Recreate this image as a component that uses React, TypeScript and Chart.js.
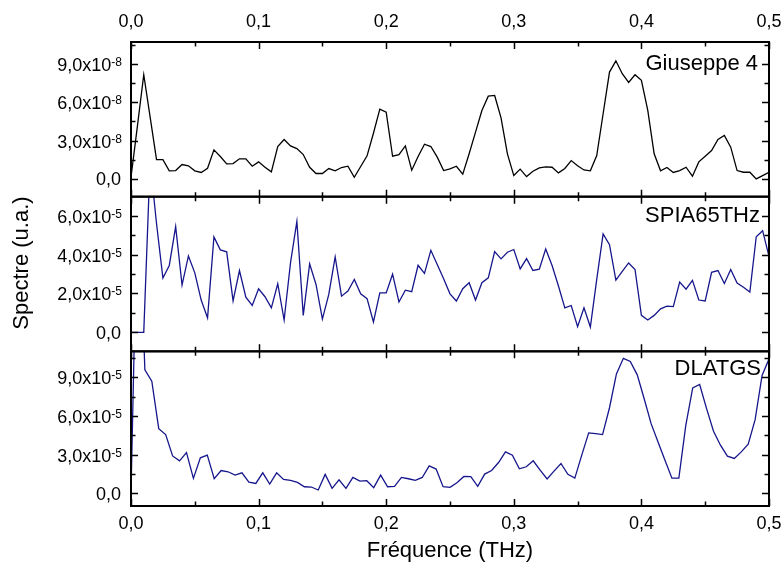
import { useEffect, useRef } from 'react';
import { Chart, registerables } from 'chart.js';

Chart.register(...registerables);

// Sampling step of each spectrum (THz)
const STEP_GIUSEPPE = 0.005;
const STEP_SPIA = 0.005;
const STEP_DLATGS = 0.5 / 92;

// Giuseppe 4 spectrum, in units of 1e-8
const giuseppe4 = [
  0.13, 4.1, 8.14, 4.83, 1.51, 1.51, 0.63, 0.65, 1.12, 1.02,
  0.63, 0.5, 0.83, 2.27, 1.75, 1.17, 1.2, 1.57, 1.57, 0.99,
  1.33, 0.91, 0.55, 2.53, 3.08, 2.58, 2.37, 1.9, 0.91, 0.42,
  0.42, 0.81, 0.63, 0.89, 0.99, 0.13, 0.97, 1.8, 3.57, 5.45,
  5.22, 1.77, 1.9, 2.58, 0.68, 1.75, 2.71, 2.53, 1.7, 0.65,
  0.78, 0.99, 0.37, 1.96, 3.65, 5.35, 6.47, 6.52, 4.77, 1.96,
  0.26, 0.76, 0.18, 0.6, 0.86, 0.94, 0.91, 0.47, 0.81, 1.43,
  1.02, 0.7, 0.63, 1.83, 5.09, 8.35, 9.23, 8.22, 7.54, 8.14,
  7.7, 5.35, 1.96, 0.63, 0.89, 0.5, 0.65, 0.91, 0.21, 1.33,
  1.77, 2.22, 3.08, 3.39, 2.48, 0.65, 0.52, 0.52, 0.0, 0.26,
  0.52,
];

// SPIA65THz spectrum, in units of 1e-5
const spia65 = [
  0, 0, 0, 8.8, 5.6, 2.79, 3.44, 5.44, 2.43, 3.93,
  3.06, 1.66, 0.74, 4.91, 4.24, 4.14, 1.62, 3.18, 1.81, 1.38,
  2.24, 1.83, 1.26, 2.5, 0.63, 3.57, 5.71, 0.87, 3.52, 2.46,
  0.68, 1.95, 3.88, 1.86, 2.12, 2.72, 1.98, 1.73, 0.53, 2.03,
  2.03, 2.99, 1.56, 2.17, 2.09, 3.45, 3.03, 4.22, 3.49, 2.75,
  1.98, 1.61, 2.24, 2.55, 1.66, 2.55, 2.8, 4.15, 3.78, 4.12,
  4.26, 3.26, 3.79, 3.18, 3.25, 4.29, 3.44, 2.38, 1.26, 1.38,
  0.29, 1.26, 0.27, 2.72, 5.06, 4.51, 2.68, 3.13, 3.57, 3.23,
  0.87, 0.63, 0.87, 1.21, 1.35, 1.32, 2.58, 2.22, 2.67, 1.66,
  1.61, 3.09, 3.18, 2.51, 3.23, 2.53, 2.32, 2.07, 4.92, 5.23,
  3.91,
];

// DLATGS spectrum, in units of 1e-5
const dlatgs = [
  0, 25, 9.56, 8.69, 5.01, 4.55, 2.9, 2.52, 3.16, 1.16,
  2.75, 2.96, 1.13, 1.77, 1.67, 1.41, 1.59, 0.87, 0.77, 1.59,
  0.72, 1.59, 1.08, 1.0, 0.85, 0.51, 0.49, 0.26, 1.47, 0.39,
  1.05, 0.39, 1.23, 0.95, 0.98, 0.44, 1.41, 0.51, 0.54, 1.23,
  1.13, 1.0, 1.23, 2.13, 1.88, 0.51, 0.46, 0.82, 1.31, 1.29,
  0.54, 1.49, 1.77, 2.39, 3.21, 2.96, 1.9, 2.06, 2.52, 1.8,
  1.11, 1.72, 2.31, 1.47, 1.18, 2.96, 4.68, 4.63, 4.55, 6.63,
  9.25, 10.46, 10.21, 9.18, 7.33, 5.4, 3.98, 2.57, 1.18, 1.18,
  5.27, 8.17, 8.43, 6.56, 4.81, 3.73, 2.88, 2.7, 3.21, 3.8,
  5.71, 9.13, 10.4,
];

const PANEL_LABELS = ['Giuseppe 4', 'SPIA65THz', 'DLATGS'];
const X_TICKS = [0, 0.1, 0.2, 0.3, 0.4, 0.5];
const X_MINOR = [0.05, 0.15, 0.25, 0.35, 0.45];
const Y1_TICKS = [0, 3, 6, 9];
const Y1_MINOR = [1.5, 4.5, 7.5, 10.5];
const Y2_TICKS = [0, 2, 4, 6];
const Y2_MINOR = [1, 3, 5];
const Y3_TICKS = [0, 3, 6, 9];
const Y3_MINOR = [1.5, 4.5, 7.5, 10.5];
const Y_EXPONENTS = ['-8', '-5', '-5'];
const X_TITLE = 'Fréquence (THz)';
const Y_TITLE = 'Spectre (u.a.)';

const FONT = '"Liberation Sans", Arial, sans-serif';

const toPoints = (vals: number[], step: number) => vals.map((v, i) => ({ x: i * step, y: v }));
const fmt = (v: number) => v.toFixed(1).replace('.', ',');

const panelPlugin = {
  id: 'panelPlugin',
  beforeDatasetDraw(chart: any, args: any) {
    const ctx = chart.ctx;
    const ys = chart.scales[args.meta.yAxisID];
    const ca = chart.chartArea;
    ctx.save();
    ctx.beginPath();
    ctx.rect(ca.left, ys.top, ca.right - ca.left, ys.bottom - ys.top);
    ctx.clip();
  },
  afterDatasetDraw(chart: any) {
    chart.ctx.restore();
  },
  afterDraw(chart: any) {
    const ctx = chart.ctx;
    const ca = chart.chartArea;
    const xs = chart.scales.x;
    const ids = ['y1', 'y2', 'y3'];
    const majors = [Y1_TICKS, Y2_TICKS, Y3_TICKS];
    const minors = [Y1_MINOR, Y2_MINOR, Y3_MINOR];
    const labelOffsets = [21.5, 19, 17.5];
    const labelRight = [758, 760, 761];
    ctx.save();
    ctx.fillStyle = '#000';
    ctx.strokeStyle = '#000';
    ids.forEach((id, p) => {
      const s = chart.scales[id];
      const top = s.top;
      const bottom = s.bottom;
      ctx.lineWidth = 1.5;
      const xt = (v: number, len: number) => {
        const px = Math.round(xs.getPixelForValue(v)) + 0.5;
        ctx.beginPath();
        ctx.moveTo(px, top);
        ctx.lineTo(px, top + len);
        ctx.moveTo(px, bottom);
        ctx.lineTo(px, bottom - len);
        ctx.stroke();
      };
      X_TICKS.forEach((v) => xt(v, 7));
      X_MINOR.forEach((v) => xt(v, 4.5));
      const yt = (v: number, len: number) => {
        const py = Math.round(s.getPixelForValue(v)) + 0.5;
        if (py < top + 1 || py > bottom - 1) return;
        ctx.beginPath();
        ctx.moveTo(ca.left, py);
        ctx.lineTo(ca.left + len, py);
        ctx.moveTo(ca.right, py);
        ctx.lineTo(ca.right - len, py);
        ctx.stroke();
      };
      majors[p].forEach((v) => yt(v, 7));
      minors[p].forEach((v) => yt(v, 4.5));
      ctx.lineWidth = 2;
      ctx.strokeRect(ca.left, top, ca.right - ca.left, bottom - top);
      const exp = Y_EXPONENTS[p];
      majors[p].forEach((v) => {
        const py = s.getPixelForValue(v);
        ctx.textBaseline = 'alphabetic';
        if (v === 0) {
          ctx.font = `18px ${FONT}`;
          ctx.textAlign = 'right';
          ctx.fillText('0,0', 121, py + 6.5);
          return;
        }
        ctx.font = `12px ${FONT}`;
        const ew = ctx.measureText(exp).width;
        ctx.textAlign = 'left';
        ctx.fillText(exp, 122 - ew, py + 2);
        ctx.font = `18px ${FONT}`;
        ctx.textAlign = 'right';
        ctx.fillText(fmt(v) + 'x10', 122 - ew, py + 7);
      });
      ctx.font = `22px ${FONT}`;
      ctx.textAlign = 'right';
      ctx.textBaseline = 'middle';
      ctx.fillText(PANEL_LABELS[p], labelRight[p], top + labelOffsets[p]);
    });
    ctx.font = `18px ${FONT}`;
    ctx.textAlign = 'center';
    ctx.textBaseline = 'alphabetic';
    X_TICKS.forEach((v) => {
      const px = xs.getPixelForValue(v);
      ctx.fillText(fmt(v), px, 27);
      ctx.fillText(fmt(v), px, 529);
    });
    ctx.font = `22px ${FONT}`;
    ctx.textAlign = 'center';
    ctx.textBaseline = 'middle';
    ctx.fillText(X_TITLE, (ca.left + ca.right) / 2, 551);
    ctx.save();
    ctx.translate(22, 263);
    ctx.rotate(-Math.PI / 2);
    ctx.fillText(Y_TITLE, 0, 0);
    ctx.restore();
    ctx.restore();
  },
};

export default function App() {
  const ref = useRef<HTMLCanvasElement | null>(null);
  useEffect(() => {
    if (!ref.current) return;
    const navy = '#16168c';
    const chart = new Chart(ref.current, {
      type: 'line',
      data: {
        datasets: [
          { label: PANEL_LABELS[0], data: toPoints(giuseppe4, STEP_GIUSEPPE), yAxisID: 'y1', borderColor: '#000', borderWidth: 1.3 },
          { label: PANEL_LABELS[1], data: toPoints(spia65, STEP_SPIA), yAxisID: 'y2', borderColor: navy, borderWidth: 1.3 },
          { label: PANEL_LABELS[2], data: toPoints(dlatgs, STEP_DLATGS), yAxisID: 'y3', borderColor: navy, borderWidth: 1.3 },
        ],
      },
      options: {
        animation: false,
        responsive: false,
        events: [],
        layout: { padding: { left: 131, right: 15, top: 42, bottom: 63 } },
        elements: { point: { radius: 0 }, line: { tension: 0, fill: false } },
        plugins: { legend: { display: false }, tooltip: { enabled: false }, title: { display: false } },
        scales: {
          x: { type: 'linear', min: 0, max: 0.5, display: false },
          y1: { type: 'linear', position: 'left', stack: 'panels', stackWeight: 1, weight: 3, min: -1.39, max: 10.7, display: false },
          y2: { type: 'linear', position: 'left', stack: 'panels', stackWeight: 1, weight: 2, min: -0.98, max: 6.98, display: false },
          y3: { type: 'linear', position: 'left', stack: 'panels', stackWeight: 1, weight: 1, min: -0.98, max: 11, display: false },
        },
      } as any,
      plugins: [panelPlugin],
    });
    return () => chart.destroy();
  }, []);
  return (
    <div style={{ position: 'fixed', left: 0, top: 0, width: 784, height: 569, background: '#fff' }}>
      <canvas ref={ref} width={784} height={569} style={{ width: 784, height: 569, display: 'block' }} />
    </div>
  );
}
